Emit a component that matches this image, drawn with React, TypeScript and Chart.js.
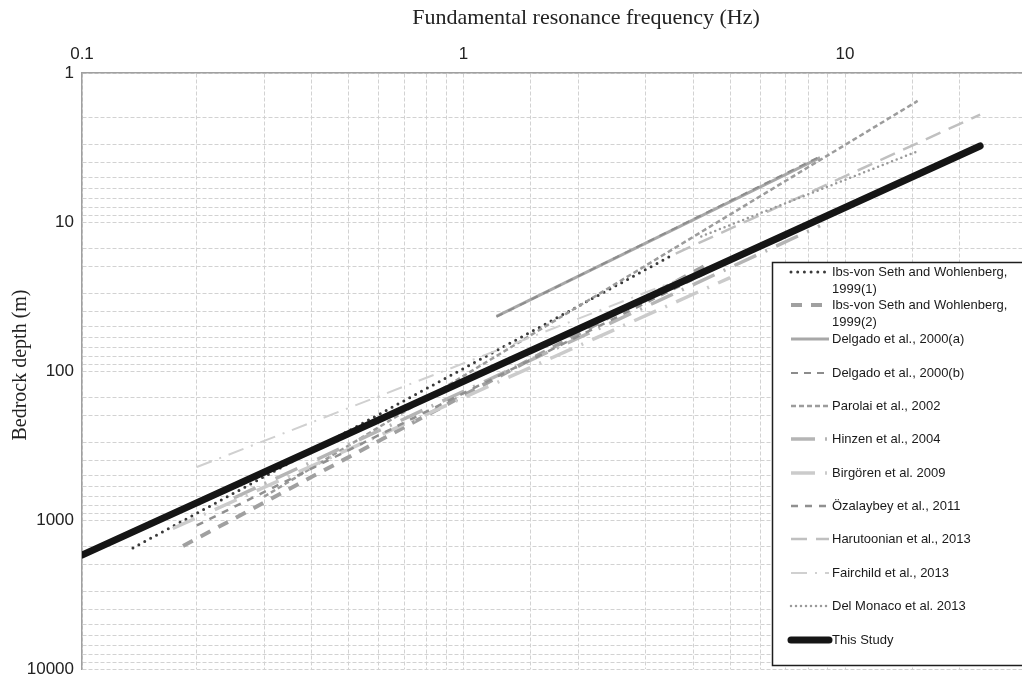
import React, { useEffect, useRef } from "react";
import { Chart, registerables } from "chart.js";

Chart.register(...registerables);

// ---------- data ----------
const xTickValues = [0.1, 1, 10];
const xTickLabels = ["0.1", "1", "10"];
const yTickValues = [1, 10, 100, 1000, 10000];
const yTickLabels = ["1", "10", "100", "1000", "10000"];

const seriesNames = [
  "Ibs-von Seth and Wohlenberg, 1999(1)",
  "Ibs-von Seth and Wohlenberg, 1999(2)",
  "Delgado et al., 2000(a)",
  "Delgado et al., 2000(b)",
  "Parolai et al., 2002",
  "Hinzen et al., 2004",
  "Birgören et al. 2009",
  "Özalaybey et al., 2011",
  "Harutoonian et al., 2013",
  "Fairchild et al., 2013",
  "Del Monaco et al. 2013",
  "This Study",
];

// frequency (Hz) / bedrock depth (m) pairs for each line
const ibs1F = [0.136, 3.54];
const ibs1H = [1540, 16.6];
const ibs2F = [0.184, 4.44];
const ibs2H = [1495, 18.8];
const delgadoAF = [1.22, 8.6];
const delgadoAH = [43, 3.7];
const delgadoBF = [1.22, 8.6];
const delgadoBH = [43.2, 3.63];
const parolaiF = [0.3, 15.5];
const parolaiH = [698, 1.54];
const hinzenF = [0.25, 8.6];
const hinzenH = [712, 10.6];
const birgorenF = [0.173, 5.0];
const birgorenH = [1140, 23.6];
const ozalaybeyF = [0.2, 6.0];
const ozalaybeyH = [1087, 14.5];
const harutoonianF = [3.6, 22.6];
const harutoonianH = [16.3, 1.9];
const fairchildF = [0.2, 7.0];
const fairchildH = [441, 12.8];
const delMonacoF = [4.2, 15.5];
const delMonacoH = [12.5, 3.35];
const thisStudyF = [0.1, 22.6];
const thisStudyH = [1718, 3.09];

const seriesF = [ibs1F, ibs2F, delgadoAF, delgadoBF, parolaiF, hinzenF, birgorenF, ozalaybeyF, harutoonianF, fairchildF, delMonacoF, thisStudyF];
const seriesH = [ibs1H, ibs2H, delgadoAH, delgadoBH, parolaiH, hinzenH, birgorenH, ozalaybeyH, harutoonianH, fairchildH, delMonacoH, thisStudyH];

// ---------- styles ----------
type Style = { color: string; width: number; dash: number[]; cap: CanvasLineCap };
const styles: Style[] = [
  { color: "#3a3a3a", width: 3, dash: [0, 6.7], cap: "round" },
  { color: "#a0a0a0", width: 4, dash: [11, 9], cap: "butt" },
  { color: "#a8a8a8", width: 3, dash: [], cap: "butt" },
  { color: "#8c8c8c", width: 2, dash: [7, 6], cap: "butt" },
  { color: "#9c9c9c", width: 2.5, dash: [5, 3], cap: "butt" },
  { color: "#b5b5b5", width: 3.5, dash: [24, 10, 2, 10], cap: "butt" },
  { color: "#cbcbcb", width: 3.5, dash: [24, 10, 2, 10], cap: "butt" },
  { color: "#909090", width: 2.5, dash: [7, 7], cap: "butt" },
  { color: "#c0c0c0", width: 2.5, dash: [16, 9], cap: "butt" },
  { color: "#d0d0d0", width: 2, dash: [16, 8, 2, 8], cap: "butt" },
  { color: "#9a9a9a", width: 2.5, dash: [0, 5], cap: "round" },
  { color: "#151515", width: 7, dash: [], cap: "round" },
];

const legendLines: string[][] = [
  ["Ibs-von Seth and Wohlenberg,", "1999(1)"],
  ["Ibs-von Seth and Wohlenberg,", "1999(2)"],
  ["Delgado et al., 2000(a)"],
  ["Delgado et al., 2000(b)"],
  ["Parolai et al., 2002"],
  ["Hinzen et al., 2004"],
  ["Birgören et al. 2009"],
  ["Özalaybey et al., 2011"],
  ["Harutoonian et al., 2013"],
  ["Fairchild et al., 2013"],
  ["Del Monaco et al. 2013"],
  ["This Study"],
];
const legendRowY = [272, 305, 339, 373, 406, 439, 473, 506, 539, 573, 606, 640];

const W = 1022;
const H = 678;

const labelFor = (values: number[], labels: string[]) => (v: number | string) => {
  const n = Number(v);
  for (let i = 0; i < values.length; i++) {
    if (Math.abs(values[i] - n) / values[i] < 1e-6) return labels[i];
  }
  return "";
};

const overlayPlugin = {
  id: "overlay",
  afterDraw(chart: any) {
    const ctx: CanvasRenderingContext2D = chart.ctx;
    ctx.save();
    // axis titles
    ctx.fillStyle = "#222";
    ctx.font = '22px "Liberation Serif", "Times New Roman", serif';
    ctx.textAlign = "center";
    ctx.textBaseline = "middle";
    ctx.fillText("Fundamental resonance frequency (Hz)", 586, 18);
    ctx.save();
    ctx.translate(21, 365);
    ctx.rotate(-Math.PI / 2);
    ctx.font = '20px "Liberation Serif", "Times New Roman", serif';
    ctx.fillText("Bedrock depth (m)", 0, 0);
    ctx.restore();

    // legend box
    const bx = 772.5, by = 262.5, bw = 260, bh = 403;
    ctx.fillStyle = "#ffffff";
    ctx.fillRect(bx, by, bw, bh);
    ctx.strokeStyle = "#1e1e1e";
    ctx.lineWidth = 1.5;
    ctx.strokeRect(bx, by, bw, bh);

    ctx.font = '13px "Liberation Sans", Arial, sans-serif';
    ctx.textAlign = "left";
    ctx.textBaseline = "middle";
    for (let i = 0; i < styles.length; i++) {
      const s = styles[i];
      const y = legendRowY[i];
      ctx.save();
      ctx.strokeStyle = s.color;
      ctx.lineWidth = s.width;
      ctx.setLineDash(s.dash);
      ctx.lineCap = s.cap;
      ctx.beginPath();
      ctx.moveTo(791, y);
      ctx.lineTo(829, y);
      ctx.stroke();
      ctx.restore();
      ctx.fillStyle = "#1a1a1a";
      legendLines[i].forEach((t, k) => ctx.fillText(t, 832, y + k * 17));
    }
    ctx.restore();
  },
};

export default function App() {
  const ref = useRef<HTMLCanvasElement>(null);

  useEffect(() => {
    const canvas = ref.current;
    if (!canvas) return;
    const datasets = seriesNames.map((name, i) => ({
      label: name,
      data: seriesF[i].map((f, j) => ({ x: f, y: seriesH[i][j] })),
      borderColor: styles[i].color,
      backgroundColor: styles[i].color,
      borderWidth: styles[i].width,
      borderDash: styles[i].dash,
      borderCapStyle: styles[i].cap,
      showLine: true,
      pointRadius: 0,
      pointHoverRadius: 0,
      fill: false,
      tension: 0,
      order: seriesNames.length - 1 - i,
    }));

    const chart = new Chart(canvas, {
      type: "scatter",
      data: { datasets },
      options: {
        animation: false,
        responsive: false,
        maintainAspectRatio: false,
        layout: { padding: { left: 0, right: 0, top: 0, bottom: 9 } },
        plugins: { legend: { display: false }, tooltip: { enabled: false } },
        scales: {
          x: {
            type: "logarithmic",
            position: "top",
            min: 0.1,
            max: 29.1,
            afterFit: (s: any) => {
              s.height = 73;
              s.paddingLeft = 0;
              s.paddingRight = 0;
            },
            ticks: {
              autoSkip: false,
              maxRotation: 0,
              padding: 8,
              color: "#222",
              font: { family: '"Liberation Sans", Arial, sans-serif', size: 17 },
              callback: labelFor(xTickValues, xTickLabels),
            },
            grid: { color: "#d2d2d2", lineWidth: 1, drawTicks: false },
            border: { display: true, color: "#a0a0a0", width: 1.5, dash: [4, 2] },
          },
          y: {
            type: "logarithmic",
            reverse: true,
            min: 1,
            max: 10000,
            afterFit: (s: any) => {
              s.width = 82;
              s.paddingTop = 0;
              s.paddingBottom = 0;
            },
            ticks: {
              autoSkip: false,
              padding: 8,
              color: "#222",
              font: { family: '"Liberation Sans", Arial, sans-serif', size: 17 },
              callback: labelFor(yTickValues, yTickLabels),
            },
            grid: { color: "#d2d2d2", lineWidth: 1, drawTicks: false },
            border: { display: true, color: "#a0a0a0", width: 1.5, dash: [4, 2] },
          },
        },
      },
      plugins: [overlayPlugin],
    } as any);

    return () => chart.destroy();
  }, []);

  return (
    <div style={{ position: "fixed", left: 0, top: 0, width: W, height: H, background: "#fff" }}>
      <canvas ref={ref} width={W} height={H} style={{ display: "block", width: W, height: H }} />
    </div>
  );
}
